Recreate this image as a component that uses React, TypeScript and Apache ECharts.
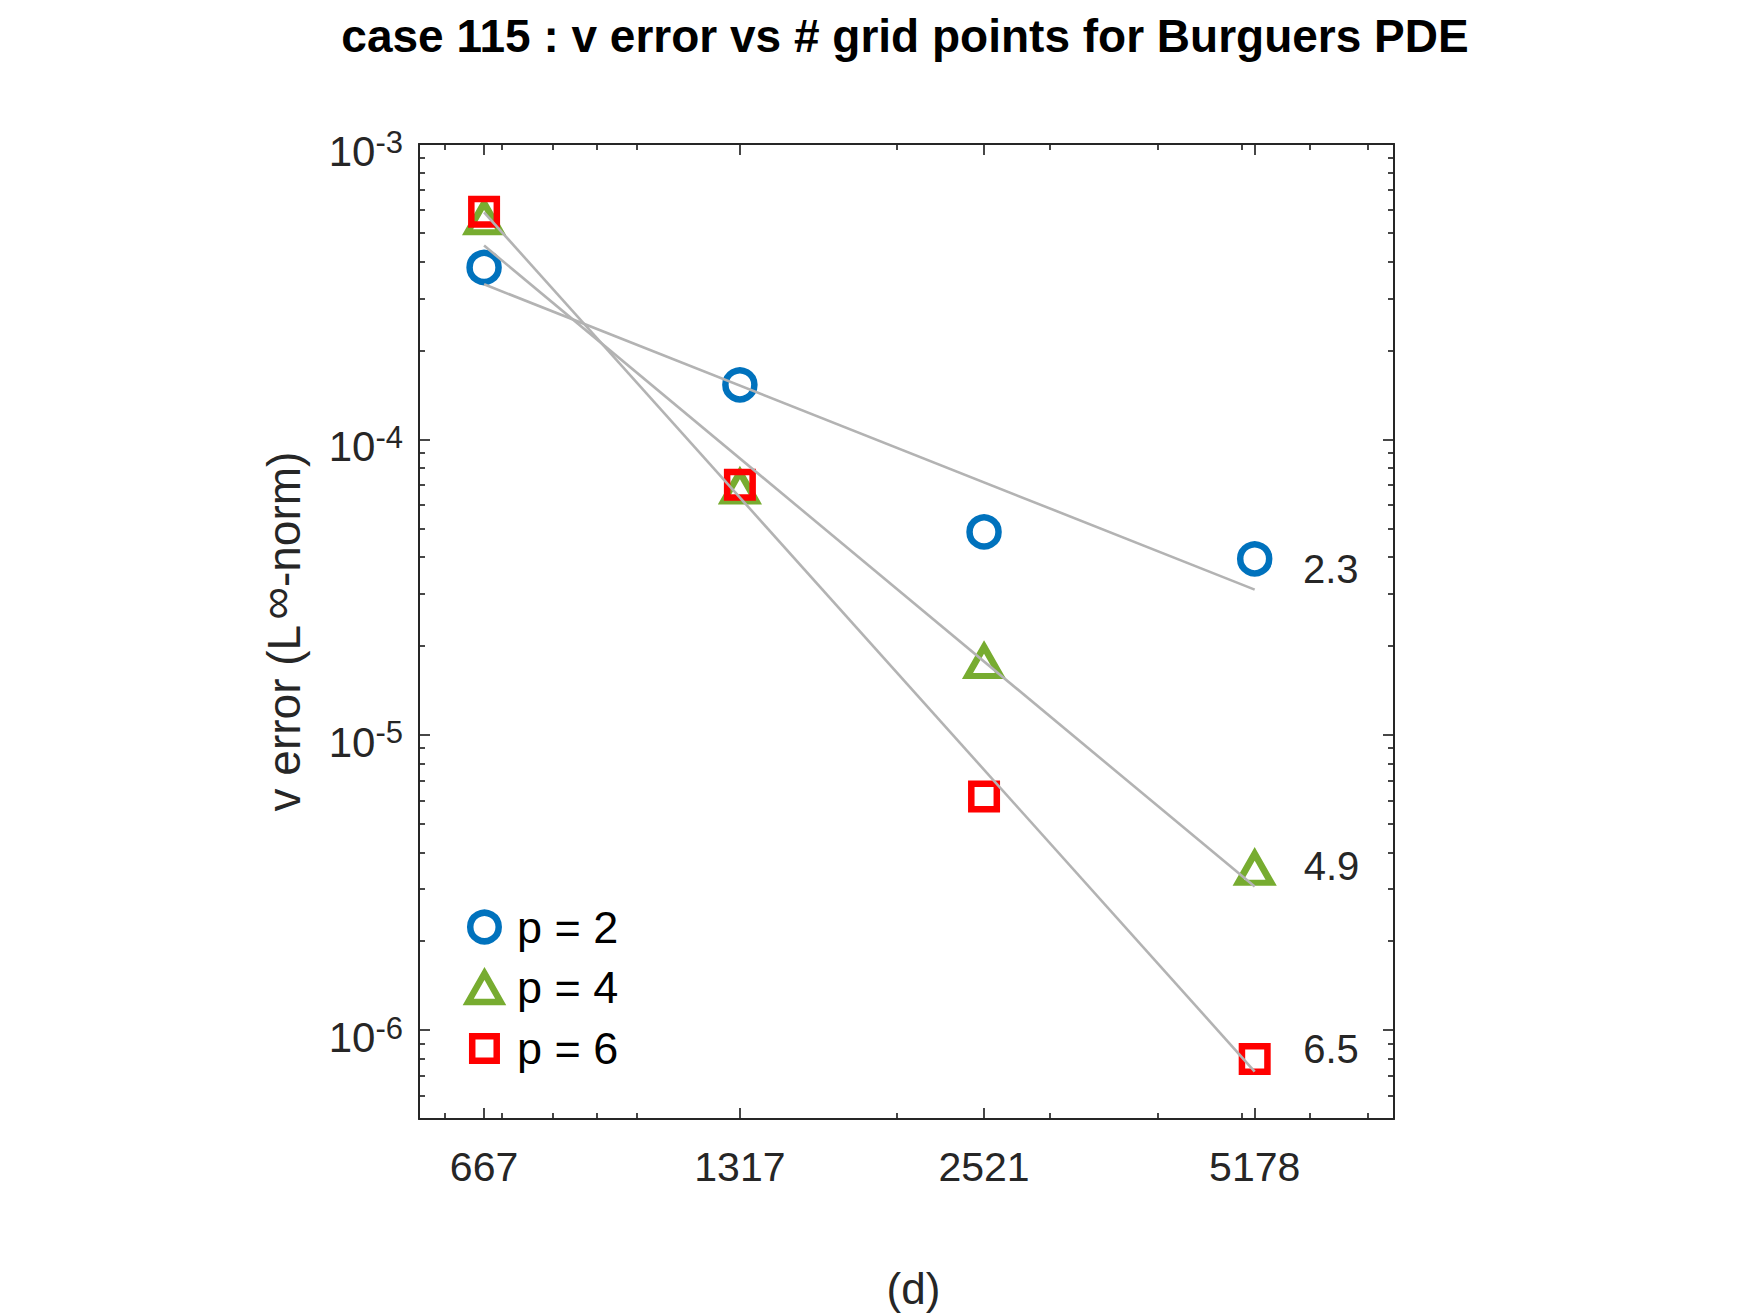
import React, { useEffect, useRef } from 'react';
import * as echarts from 'echarts';

const FONT = '"Liberation Sans", Arial, Helvetica, sans-serif';
const AXIS_COLOR = '#262626';
const FIT_COLOR = '#B3B3B3';

// ---- data ----
const gridPoints = [667, 1317, 2521, 5178];
const errP2 = [3.82e-4, 1.53e-4, 4.86e-5, 3.94e-5];
const errP4 = [5.63e-4, 6.9e-5, 1.77e-5, 3.53e-6];
const errP6 = [5.9e-4, 7.02e-5, 6.18e-6, 7.98e-7];
const fitEnds = [667, 5178];
const fitP2 = [3.35e-4, 3.1e-5];
const fitP4 = [4.53e-4, 3.06e-6];
const fitP6 = [5.87e-4, 7.24e-7];
const seriesNames = ['p = 2', 'p = 4', 'p = 6'];
const rateLabels = ['2.3', '4.9', '6.5'];
const xTickValues = [667, 1317, 2521, 5178];
const xTickLabels = ['667', '1317', '2521', '5178'];
const xMinorTicks = [600, 700, 800, 900, 1000, 2000, 3000, 4000, 5000, 6000, 7000];
const yTickValues = [1e-6, 1e-5, 1e-4, 1e-3];
const yTickExponents = ['-6', '-5', '-4', '-3'];
const yMinorTicks = [
  6e-7, 7e-7, 8e-7, 9e-7,
  2e-6, 3e-6, 4e-6, 5e-6, 6e-6, 7e-6, 8e-6, 9e-6,
  2e-5, 3e-5, 4e-5, 5e-5, 6e-5, 7e-5, 8e-5, 9e-5,
  2e-4, 3e-4, 4e-4, 5e-4, 6e-4, 7e-4, 8e-4, 9e-4,
];
const titleText = 'case 115 : v error vs # grid points for Burguers PDE';
const xName = '(d)';
const X_MIN = 561;
const X_MAX = 7500;
const Y_MIN = 5e-7;
const Y_MAX = 1e-3;

const nearestIndex = (arr: number[], v: number) => {
  let best = 0;
  let d = Infinity;
  arr.forEach((a, i) => {
    const dd = Math.abs(Math.log10(a) - Math.log10(v));
    if (dd < d) {
      d = dd;
      best = i;
    }
  });
  return best;
};

const tickLine = { color: AXIS_COLOR, width: 1.7 };
const axisLineStyle = { color: AXIS_COLOR, width: 2 };

const xBase = {
  type: 'log',
  logBase: 10,
  min: X_MIN,
  max: X_MAX,
  gridIndex: 0,
  splitLine: { show: false },
  minorTick: { show: false },
  minorSplitLine: { show: false },
  axisPointer: { show: false },
};
const yBase = {
  type: 'log',
  logBase: 10,
  min: Y_MIN,
  max: Y_MAX,
  gridIndex: 0,
  splitLine: { show: false },
  minorTick: { show: false },
  minorSplitLine: { show: false },
  axisPointer: { show: false },
};

const majorX = (position: string, withLabels: boolean) => ({
  ...xBase,
  position,
  axisLine: { show: true, onZero: false, lineStyle: axisLineStyle },
  axisTick: { show: true, inside: true, length: 11, lineStyle: tickLine, customValues: xTickValues },
  axisLabel: withLabels
    ? {
        show: true,
        customValues: xTickValues,
        formatter: (v: number) => xTickLabels[nearestIndex(xTickValues, v)],
        margin: 27,
        fontSize: 41,
        color: AXIS_COLOR,
        fontFamily: FONT,
      }
    : { show: false },
});
const minorX = (position: string) => ({
  ...xBase,
  position,
  axisLine: { show: false, onZero: false },
  axisTick: { show: true, inside: true, length: 6, lineStyle: tickLine, customValues: xMinorTicks },
  axisLabel: { show: false },
});
const majorY = (position: string, withLabels: boolean) => ({
  ...yBase,
  position,
  axisLine: { show: true, onZero: false, lineStyle: axisLineStyle },
  axisTick: { show: true, inside: true, length: 11, lineStyle: tickLine, customValues: yTickValues },
  axisLabel: withLabels
    ? {
        show: true,
        customValues: yTickValues,
        formatter: (v: number) => `{b|10}{s|${yTickExponents[nearestIndex(yTickValues, v)]}}`,
        margin: 16,
        color: AXIS_COLOR,
        fontFamily: FONT,
        rich: {
          b: { fontSize: 42, lineHeight: 42, padding: [15, 0, 0, 0], color: AXIS_COLOR, fontFamily: FONT },
          s: {
            fontSize: 31,
            lineHeight: 31,
            verticalAlign: 'top',
            padding: [3.5, 0, 0, 0],
            color: AXIS_COLOR,
            fontFamily: FONT,
          },
        },
      }
    : { show: false },
});
const minorY = (position: string) => ({
  ...yBase,
  position,
  axisLine: { show: false, onZero: false },
  axisTick: { show: true, inside: true, length: 6, lineStyle: tickLine, customValues: yMinorTicks },
  axisLabel: { show: false },
});

const makeScatter = (
  name: string,
  values: number[],
  symbol: string,
  size: number | number[],
  color: string,
  rate: string,
  labelDistance: number,
  labelOffsetY: number,
) => ({
  type: 'scatter',
  name,
  xAxisIndex: 0,
  yAxisIndex: 0,
  symbol,
  symbolSize: size,
  itemStyle: {
    color: 'rgba(0,0,0,0)',
    borderColor: color,
    borderWidth: 6.5,
    borderJoin: 'miter',
    borderMiterLimit: 10,
    opacity: 1,
  },
  emphasis: { disabled: true },
  z: 2,
  data: gridPoints.map((x, i) =>
    i === gridPoints.length - 1
      ? {
          value: [x, values[i]],
          label: {
            show: true,
            formatter: rate,
            position: 'right',
            distance: labelDistance,
            offset: [0, labelOffsetY],
            fontSize: 40,
            color: AXIS_COLOR,
            opacity: 1,
            fontFamily: FONT,
          },
        }
      : [x, values[i]],
  ),
});

const makeFit = (name: string, values: number[]) => ({
  type: 'line',
  name,
  xAxisIndex: 0,
  yAxisIndex: 0,
  symbol: 'none',
  silent: true,
  emphasis: { disabled: true },
  lineStyle: { color: FIT_COLOR, width: 2.6, opacity: 1 },
  z: 3,
  data: fitEnds.map((x, i) => [x, values[i]]),
});

const option = {
  animation: false,
  backgroundColor: '#ffffff',
  title: {
    text: titleText,
    left: 905,
    top: 36,
    padding: 0,
    textAlign: 'center',
    textVerticalAlign: 'middle',
    textStyle: { fontSize: 46, fontWeight: 'bold', color: '#000000', fontFamily: FONT },
  },
  grid: {
    left: 419,
    top: 144,
    width: 975,
    height: 975,
    containLabel: false,
    outerBoundsMode: 'none',
  },
  legend: {
    show: true,
    orient: 'vertical',
    left: 465,
    top: 904.5,
    padding: 0,
    itemGap: 15.7,
    itemWidth: 55,
    itemHeight: 28.5,
    selectedMode: false,
    textStyle: { fontSize: 45, color: '#000000', fontFamily: FONT },
    itemStyle: { borderWidth: 6.5, borderJoin: 'miter', borderMiterLimit: 10, opacity: 1 },
    data: [
      { name: seriesNames[0], icon: 'circle' },
      { name: seriesNames[1], icon: 'path://M16.5,0L33,29L0,29Z' },
      { name: seriesNames[2], icon: 'path://M0,0M2,2L26.5,2L26.5,26.5L2,26.5ZM28.5,28.5' },
    ],
  },
  xAxis: [
    {
      ...majorX('bottom', true),
      name: xName,
      nameLocation: 'middle',
      nameGap: 147,
      nameTextStyle: { fontSize: 44, color: AXIS_COLOR, fontFamily: FONT, padding: [0, 0, 0, 14] },
    },
    minorX('bottom'),
    majorX('top', false),
    minorX('top'),
  ],
  yAxis: [
    {
      ...majorY('left', true),
      name: '{n|v error (L}{s|∞}{n|-norm)}',
      nameLocation: 'middle',
      nameGap: 120,
      nameRotate: 90,
      nameTextStyle: {
        color: AXIS_COLOR,
        fontFamily: FONT,
        rich: {
          n: { fontSize: 46, lineHeight: 46, padding: [16, 0, 0, 0], color: AXIS_COLOR, fontFamily: FONT },
          s: {
            fontSize: 46,
            lineHeight: 40,
            verticalAlign: 'top',
            padding: [0, 0, 0, 5],
            color: AXIS_COLOR,
            fontFamily: FONT,
          },
        },
      },
    },
    minorY('left'),
    majorY('right', false),
    minorY('right'),
  ],
  series: [
    makeScatter(seriesNames[0], errP2, 'circle', 29, '#0072BD', rateLabels[0], 30.5, 10),
    makeScatter(seriesNames[1], errP4, 'triangle', [33, 29], '#77AC30', rateLabels[1], 29, -2.5),
    makeScatter(seriesNames[2], errP6, 'rect', 25.5, '#FF0000', rateLabels[2], 32.5, -9.7),
    makeFit('fit p = 2', fitP2),
    makeFit('fit p = 4', fitP4),
    makeFit('fit p = 6', fitP6),
  ],
};

export default function App() {
  const ref = useRef<HTMLDivElement>(null);
  useEffect(() => {
    if (!ref.current) return;
    const chart = echarts.init(ref.current, null, { renderer: 'svg' });
    chart.setOption(option as any);
    return () => chart.dispose();
  }, []);
  return (
    <div
      ref={ref}
      style={{ position: 'fixed', left: 0, top: 0, width: 1751, height: 1313, background: '#ffffff' }}
    />
  );
}
